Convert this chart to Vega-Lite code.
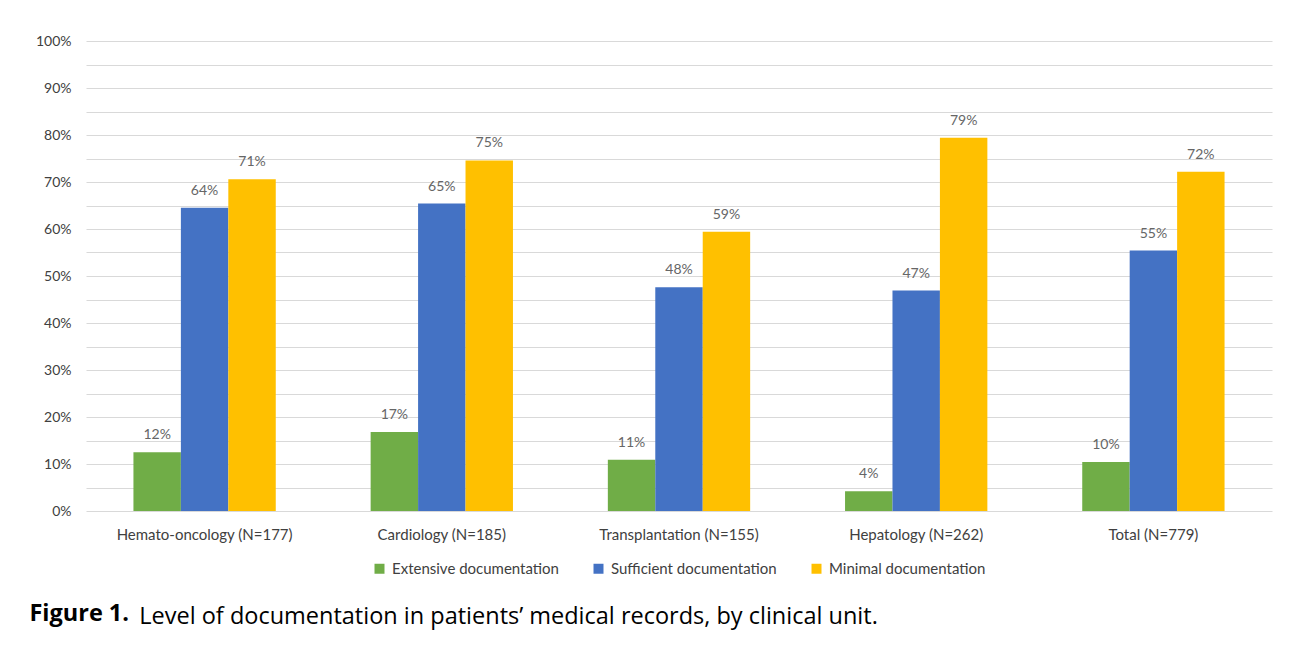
{
  "$schema": "https://vega.github.io/schema/vega-lite/v6.json",
  "width": 1311,
  "height": 645,
  "autosize": {"type": "fit", "contains": "padding"},
  "padding": {"left": 29, "top": 34, "right": 39, "bottom": 17},
  "background": "white",
  "title": {
    "text": "Figure 1.",
    "subtitle": "\u200d\u00a0\u00a0\u00a0\u00a0\u00a0\u00a0\u00a0\u00a0\u00a0\u00a0\u00a0\u00a0\u00a0\u00a0\u00a0\u00a0\u00a0\u00a0Level of documentation in patients’ medical records, by clinical unit.",
    "orient": "bottom",
    "anchor": "start",
    "frame": "bounds",
    "dx": -6,
    "offset": 25,
    "font": "Open Sans",
    "fontSize": 23.5,
    "fontWeight": "bold",
    "color": "#000000",
    "subtitleFont": "Open Sans",
    "subtitleFontSize": 23.5,
    "subtitleFontWeight": "normal",
    "subtitleColor": "#000000",
    "subtitlePadding": -21
  },
  "data": {
    "values": [
      {"unit": "Hemato-oncology (N=177)", "level": "Extensive documentation", "value": 0.125, "label": "12%"},
      {"unit": "Hemato-oncology (N=177)", "level": "Sufficient documentation", "value": 0.645, "label": "64%"},
      {"unit": "Hemato-oncology (N=177)", "level": "Minimal documentation", "value": 0.706, "label": "71%"},
      {"unit": "Cardiology (N=185)", "level": "Extensive documentation", "value": 0.168, "label": "17%"},
      {"unit": "Cardiology (N=185)", "level": "Sufficient documentation", "value": 0.654, "label": "65%"},
      {"unit": "Cardiology (N=185)", "level": "Minimal documentation", "value": 0.746, "label": "75%"},
      {"unit": "Transplantation (N=155)", "level": "Extensive documentation", "value": 0.109, "label": "11%"},
      {"unit": "Transplantation (N=155)", "level": "Sufficient documentation", "value": 0.476, "label": "48%"},
      {"unit": "Transplantation (N=155)", "level": "Minimal documentation", "value": 0.594, "label": "59%"},
      {"unit": "Hepatology (N=262)", "level": "Extensive documentation", "value": 0.042, "label": "4%"},
      {"unit": "Hepatology (N=262)", "level": "Sufficient documentation", "value": 0.469, "label": "47%"},
      {"unit": "Hepatology (N=262)", "level": "Minimal documentation", "value": 0.794, "label": "79%"},
      {"unit": "Total (N=779)", "level": "Extensive documentation", "value": 0.104, "label": "10%"},
      {"unit": "Total (N=779)", "level": "Sufficient documentation", "value": 0.554, "label": "55%"},
      {"unit": "Total (N=779)", "level": "Minimal documentation", "value": 0.722, "label": "72%"}
    ]
  },
  "encoding": {
    "x": {
      "field": "unit",
      "type": "nominal",
      "sort": null,
      "scale": {"paddingInner": 0.4, "paddingOuter": 0.2},
      "axis": {
        "title": null,
        "labelAngle": 0,
        "ticks": false,
        "domain": false,
        "labelPadding": 16,
        "labelFontSize": 15,
        "labelColor": "#404040",
        "labelFont": "Lato"
      }
    },
    "xOffset": {
      "field": "level",
      "type": "nominal",
      "sort": ["Extensive documentation", "Sufficient documentation", "Minimal documentation"]
    },
    "y": {
      "field": "value",
      "type": "quantitative",
      "scale": {"domain": [0, 1], "nice": false},
      "axis": {
        "title": null,
        "values": [0, 0.05, 0.1, 0.15, 0.2, 0.25, 0.3, 0.35, 0.4, 0.45, 0.5, 0.55, 0.6, 0.65, 0.7, 0.75, 0.8, 0.85, 0.9, 0.95, 1],
        "labelExpr": "round(datum.value * 100) % 10 === 0 ? round(datum.value * 100) + '%' : ''",
        "ticks": false,
        "domain": false,
        "grid": true,
        "gridColor": "#d9d9d9",
        "labelPadding": 15,
        "labelFontSize": 14,
        "labelColor": "#404040",
        "labelFont": "Lato"
      }
    }
  },
  "layer": [
    {
      "mark": {"type": "bar"},
      "encoding": {
        "color": {
          "field": "level",
          "type": "nominal",
          "sort": ["Extensive documentation", "Sufficient documentation", "Minimal documentation"],
          "scale": {
            "domain": ["Extensive documentation", "Sufficient documentation", "Minimal documentation"],
            "range": ["#70AD47", "#4472C4", "#FFC000"]
          },
          "legend": {
            "title": null,
            "orient": "bottom",
            "direction": "horizontal",
            "symbolType": "square",
            "symbolSize": 100,
            "symbolStrokeWidth": 0,
            "labelFontSize": 15,
            "labelFont": "Lato",
            "labelColor": "#404040",
            "labelOffset": 5,
            "labelLimit": 0,
            "columnPadding": 32,
            "offset": 19
          }
        }
      }
    },
    {
      "mark": {"type": "text", "dy": -10, "baseline": "bottom", "fontSize": 14, "font": "Lato", "color": "#666666"},
      "encoding": {
        "text": {"field": "label", "type": "nominal"}
      }
    }
  ],
  "config": {
    "view": {"stroke": null},
    "font": "Lato",
    "legend": {"layout": {"bottom": {"anchor": "middle"}}}
  }
}
